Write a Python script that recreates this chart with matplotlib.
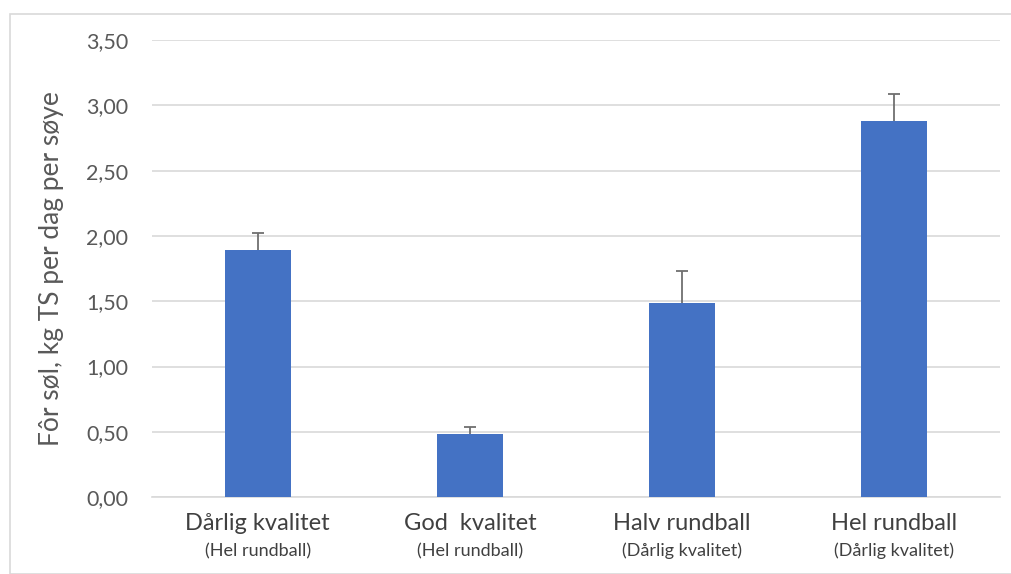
import matplotlib.pyplot as plt
import matplotlib.transforms as mtransforms
from matplotlib.patches import Rectangle

# data
categories = ["Dårlig kvalitet", "God  kvalitet", "Halv rundball", "Hel rundball"]
sub_labels = ["(Hel rundball)", "(Hel rundball)", "(Dårlig kvalitet)", "(Dårlig kvalitet)"]
feed_waste = [1.89, 0.48, 1.49, 2.88]
err_upper = [0.13, 0.06, 0.24, 0.21]
y_ticks = [0.0, 0.5, 1.0, 1.5, 2.0, 2.5, 3.0, 3.5]

BAR_COLOR = "#4472C4"
TEXT_COLOR = "#595959"
GRID_COLOR = "#D9D9D9"

plt.rcParams["font.family"] = ["Lato", "DejaVu Sans"]

fig = plt.figure(figsize=(10.12, 5.74), dpi=100)
ax = fig.add_axes([0.150, 0.134, 0.838, 0.796])

# light frame around the whole chart
fig.patches.append(
    Rectangle((10 / 1012, 0), 1 - 10 / 1012, 1 - 14 / 574,
              transform=fig.transFigure, fill=False,
              edgecolor="#D9D9D9", linewidth=1.2)
)

x = list(range(len(categories)))
ax.bar(x, feed_waste, width=0.31, color=BAR_COLOR, zorder=3)
eb = ax.errorbar(x, feed_waste, yerr=[[0] * len(err_upper), err_upper],
                 fmt="none", ecolor="#6F6F6F", elinewidth=1.3,
                 capsize=4.5, capthick=1.3, zorder=2)
# only the upper whisker is shown, drop the cap sitting on the bar top
for cap in eb[1]:
    if list(cap.get_ydata()) == feed_waste:
        cap.set_visible(False)

ax.set_xlim(-0.5, len(categories) - 0.5)
ax.set_ylim(0, 3.5)
ax.set_yticks(y_ticks)
ax.set_yticklabels([f"{v:.2f}".replace(".", ",") for v in y_ticks])
ax.tick_params(axis="y", length=0, pad=17, labelsize=15.5, labelcolor=TEXT_COLOR)
ax.set_xticks([])

ax.yaxis.grid(True, color=GRID_COLOR, linewidth=1.2, zorder=0)
ax.set_axisbelow(True)
for side in ["top", "right", "left"]:
    ax.spines[side].set_visible(False)
ax.spines["bottom"].set_color(GRID_COLOR)
ax.spines["bottom"].set_linewidth(1.2)

ax.set_ylabel("Fôr søl, kg TS per dag per søye", fontsize=19,
              color=TEXT_COLOR, labelpad=16)

# two-line category labels
trans = mtransforms.blended_transform_factory(ax.transData, fig.transFigure)
for i, (main, sub) in enumerate(zip(categories, sub_labels)):
    ax.text(i, 1 - 523 / 574, main, transform=trans, ha="center",
            va="center", fontsize=17, color="#404040")
    ax.text(i, 1 - 551 / 574, sub, transform=trans, ha="center",
            va="center", fontsize=13, color="#404040")

fig.savefig("out.png", dpi=100)
plt.close(fig)
